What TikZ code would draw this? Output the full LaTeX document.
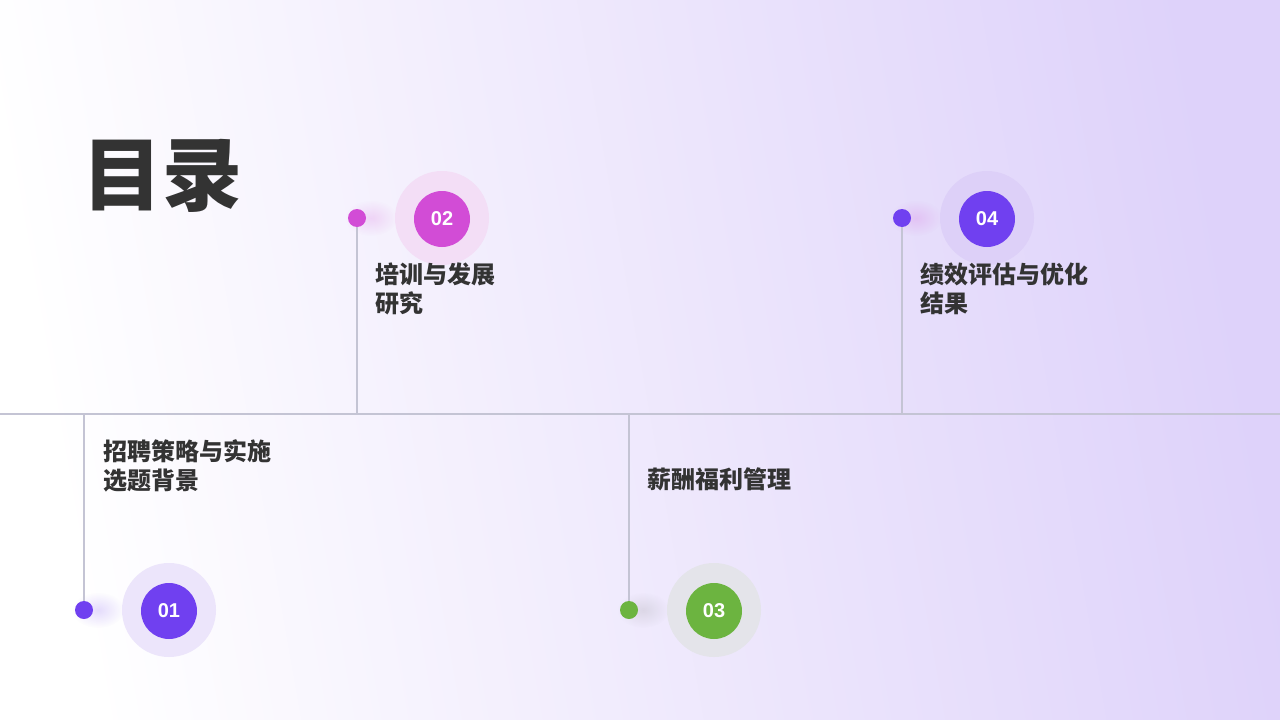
\documentclass[tikz,border=0pt]{standalone}
\usepackage{fontspec}
\setmainfont{Liberation Sans}
\newfontfamily\cjk{Noto Sans CJK SC}
\usetikzlibrary{positioning,fadings}
\tikzfading[name=glowfade, inner color=transparent!82, outer color=transparent!100]
\definecolor{bgR}{RGB}{222,210,250}
\definecolor{lineC}{RGB}{196,196,212}
\definecolor{txt}{RGB}{51,51,51}
\definecolor{cPurple}{RGB}{112,64,240}
\definecolor{cMag}{RGB}{210,76,214}
\definecolor{cGreen}{RGB}{108,180,64}
\definecolor{oPurple}{RGB}{236,229,251}
\definecolor{oMag}{RGB}{243,222,246}
\definecolor{oGray}{RGB}{228,228,234}
\definecolor{oPurple2}{RGB}{221,208,248}
\tikzset{
  dotnode/.style={circle,fill=#1,minimum size=18pt,inner sep=0pt},
  outerc/.style={circle,fill=#1,minimum size=94pt,inner sep=0pt},
  innerc/.style={circle,fill=#1,minimum size=56pt,inner sep=0pt,text=white,font=\fontsize{20}{24}\selectfont\bfseries},
  label/.style={anchor=north west,inner sep=0pt,align=left,text=txt,font=\cjk\bfseries\fontsize{24}{29}\selectfont},
  conn/.style={draw=lineC,line width=1.5pt},
}
\begin{document}
\begin{tikzpicture}[x=1pt,y=-1pt]
\useasboundingbox (0,0) rectangle (1280,720);
\shade[left color=white,right color=bgR,shading angle=100] (0,0) rectangle (1280,720);
% timeline
\coordinate (tl) at (0,414);
\coordinate (tr) at (1280,414);
\draw[conn] (tl) -- (tr);
\coordinate (t1) at (84,414);
\coordinate (t2) at (357,414);
\coordinate (t3) at (629,414);
\coordinate (t4) at (902,414);
% glows
\foreach \x/\y/\c in {84/610/cPurple,357/218/cMag,629/610/gray,902/218/cMag}{
  \fill[\c,path fading=glowfade] (\x+14,\y) ellipse (26 and 18);
}
% title
\node[anchor=west,inner sep=0pt,text=txt,font=\cjk\bfseries\fontsize{80}{90}\selectfont] (title) at (82,176) {目录};
% items
\node[dotnode=cPurple] (d1) at (84,610) {};
\node[dotnode=cMag] (d2) at (357,218) {};
\node[dotnode=cGreen] (d3) at (629,610) {};
\node[dotnode=cPurple] (d4) at (902,218) {};
\draw[conn] (d1) -- (t1);
\draw[conn] (d2) -- (t2);
\draw[conn] (d3) -- (t3);
\draw[conn] (d4) -- (t4);
\node[outerc=oPurple] (o1) at (169,610) {};
\node[outerc=oMag] (o2) at (442,218) {};
\node[outerc=oGray] (o3) at (714,610) {};
\node[outerc=oPurple2] (o4) at (987,218) {};
\node[innerc=cPurple] (n1) at (169,611) {01};
\node[innerc=cMag] (n2) at (442,219) {02};
\node[innerc=cGreen] (n3) at (714,611) {03};
\node[innerc=cPurple] (n4) at (987,219) {04};
\node[label] (l1) at (103,439) {招聘策略与实施\\选题背景};
\node[label] (l2) at (375,263) {培训与发展\\研究};
\node[label] (l3) at (647,468) {薪酬福利管理};
\node[label] (l4) at (920,263) {绩效评估与优化\\结果};
\end{tikzpicture}
\end{document}
